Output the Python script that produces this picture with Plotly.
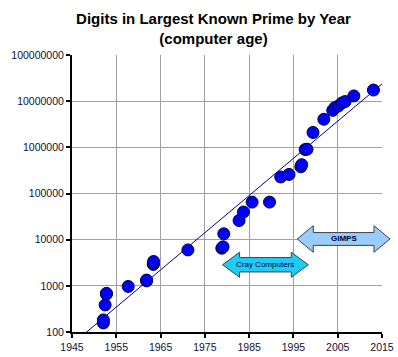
import math
import plotly.graph_objects as go

# ---- data ----
years = [1952.08, 1952.08, 1952.48, 1952.77, 1952.78, 1957.69, 1961.84, 1961.84,
         1963.36, 1963.36, 1963.42, 1971.17, 1978.83, 1979.11, 1979.27, 1982.73,
         1983.72, 1985.67, 1989.60, 1992.13, 1994.01, 1996.67, 1996.87, 1997.65,
         1998.07, 1999.42, 2001.87, 2003.88, 2004.37, 2005.13, 2005.95, 2006.67,
         2008.64, 2013.07]
digits = [157, 183, 386, 664, 687, 969, 1281, 1332,
          2917, 2993, 3376, 6002, 6533, 6987, 13395, 25962,
          39751, 65050, 65087, 227832, 258716, 378632, 420921, 895932,
          909526, 2098960, 4053946, 6320430, 7235733, 7816230, 9152052, 9808358,
          12978189, 17425170]

trend_years = [1945, 2015]
trend_digits = [54.2, 2.36e7]

y_tick_vals = [100, 1000, 10000, 100000, 1000000, 10000000, 100000000]
y_tick_text = ["100", "1000", "10000", "100000", "1000000", "10000000", "100000000"]
x_tick_vals = [1945, 1955, 1965, 1975, 1985, 1995, 2005, 2015]

arrow_labels = ["Cray Computers", "GIMPS"]
arrow_start_years = [1979.0, 1995.87]
arrow_end_years = [1998.36, 2016.8]
arrow_center_digits = [2860, 10350]

# ---- layout geometry ----
W, H = 398, 357
ML, MR, MT, MB = 72, 16, 55, 25
PW, PH = W - ML - MR, H - MT - MB
XR = [1945, 2015]
YR = [2, 8]

def xp(year):
    return (year - XR[0]) / (XR[1] - XR[0])

def yp(d):
    return (math.log10(d) - YR[0]) / (YR[1] - YR[0])

fig = go.Figure()

fig.add_trace(go.Scatter(
    x=trend_years, y=trend_digits, mode="lines",
    line=dict(color="#000080", width=1), hoverinfo="skip", showlegend=False))

fig.add_trace(go.Scatter(
    x=years, y=digits, mode="markers",
    marker=dict(size=12, color="#0000FF", line=dict(color="#000040", width=1)),
    showlegend=False, cliponaxis=False))

FONT = "Arial, Liberation Sans, sans-serif"
arrow_styles = [
    dict(fill="#1FCBF7", half=12.5, shaft=7.2, head=17, font=dict(size=8, color="#000033", family=FONT), bold=False),
    dict(fill="#99CCFF", half=13.3, shaft=6.4, head=16, font=dict(size=8, color="#000033", family=FONT), bold=True),
]
shapes = []
annotations = []
for lab, x0y, x1y, cd, st in zip(arrow_labels, arrow_start_years, arrow_end_years,
                                 arrow_center_digits, arrow_styles):
    x0 = xp(x0y); x1 = xp(x1y); yc = yp(cd)
    hx = st["head"] / PW
    hh = st["half"] / PH
    sh = st["shaft"] / PH
    pts = [(x0, yc), (x0 + hx, yc + hh), (x0 + hx, yc + sh), (x1 - hx, yc + sh),
           (x1 - hx, yc + hh), (x1, yc), (x1 - hx, yc - hh), (x1 - hx, yc - sh),
           (x0 + hx, yc - sh), (x0 + hx, yc - hh)]
    path = "M " + " L ".join(f"{a:.5f} {b:.5f}" for a, b in pts) + " Z"
    shapes.append(dict(type="path", xref="paper", yref="paper", path=path,
                       fillcolor=st["fill"], line=dict(color="#404040", width=1),
                       layer="above"))
    txt = f"<b>{lab}</b>" if st["bold"] else lab
    annotations.append(dict(x=(x0 + x1) / 2, y=yc, xref="paper", yref="paper",
                            text=txt, showarrow=False, font=st["font"],
                            xanchor="center", yanchor="middle"))

fig.update_layout(
    width=W, height=H,
    margin=dict(l=ML, r=MR, t=MT, b=MB, pad=0),
    paper_bgcolor="white", plot_bgcolor="white",
    font=dict(family=FONT, color="#111133", size=10),
    title=dict(text="<b>Digits in Largest Known Prime by Year<br>(computer age)</b>",
               x=213.5 / W, xanchor="center", xref="container",
               y=1 - 24 / H, yanchor="top", yref="container",
               font=dict(size=15, color="black", family=FONT)),
    xaxis=dict(range=XR, tickvals=x_tick_vals, showgrid=True, gridcolor="#A0A0A0",
               gridwidth=1, showline=True, linecolor="black", linewidth=2,
               ticks="outside", ticklen=4, tickcolor="black", tickwidth=2,
               zeroline=False, tickfont=dict(size=10.5), automargin=False),
    yaxis=dict(type="log", range=YR, tickvals=y_tick_vals, ticktext=y_tick_text,
               showgrid=True, gridcolor="#A0A0A0", gridwidth=1,
               showline=True, linecolor="black", linewidth=2,
               ticks="outside", ticklen=4, tickcolor="black", tickwidth=2,
               zeroline=False, tickfont=dict(size=10.5), automargin=False),
    shapes=shapes, annotations=annotations,
)

fig.write_html("out.html", config={"displayModeBar": False},
               post_script="document.body.style.margin='0';document.body.style.padding='0';")
